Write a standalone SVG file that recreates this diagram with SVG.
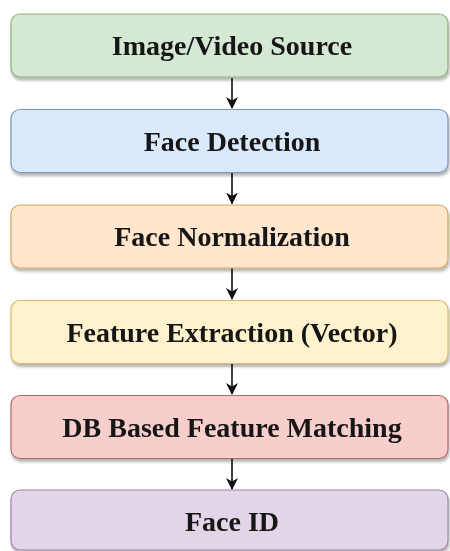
<svg xmlns="http://www.w3.org/2000/svg" width="450" height="551" viewBox="0 0 450 551">
<style>
.box{stroke-width:1.2}
.lbl{font-family:"Liberation Serif","Times New Roman",serif;font-weight:bold;font-size:28px;fill:#161616;text-anchor:middle}
.conn{stroke:#111;stroke-width:1.6;fill:none}
</style>
<defs>
<filter id="sh" x="-5%" y="-10%" width="110%" height="130%">
<feGaussianBlur in="SourceAlpha" stdDeviation="1.5"/>
<feOffset dx="1" dy="3" result="b"/>
<feComponentTransfer><feFuncA type="linear" slope="0.3"/></feComponentTransfer>
<feMerge><feMergeNode/><feMergeNode in="SourceGraphic"/></feMerge>
</filter>
<marker id="ah" markerWidth="12" markerHeight="12" refX="11" refY="6" orient="auto" markerUnits="userSpaceOnUse">
<path d="M0,0 L12,6 L0,12 L3.5,6 Z" fill="#111"/>
</marker>
</defs>
<rect width="450" height="551" fill="#fff"/>
<g id="connectors">
<line class="conn" x1="232" y1="78" x2="232" y2="108" marker-end="url(#ah)"/>
<line class="conn" x1="232" y1="173" x2="232" y2="203.5" marker-end="url(#ah)"/>
<line class="conn" x1="232" y1="268" x2="232" y2="299" marker-end="url(#ah)"/>
<line class="conn" x1="232" y1="364" x2="232" y2="394" marker-end="url(#ah)"/>
<line class="conn" x1="232" y1="459" x2="232" y2="489" marker-end="url(#ah)"/>
</g>
<g id="n1" filter="url(#sh)"><rect class="box" x="11" y="14" width="437" height="63" rx="9" fill="#d5e8d4" stroke="#8fb07a"/><text class="lbl" x="232" y="55">Image/Video Source</text></g>
<g id="n2" filter="url(#sh)"><rect class="box" x="11" y="109.5" width="437" height="63" rx="9" fill="#dae8fc" stroke="#7f95b8"/><text class="lbl" x="232" y="150.5">Face Detection</text></g>
<g id="n3" filter="url(#sh)"><rect class="box" x="11" y="205" width="437" height="63" rx="9" fill="#ffe6cc" stroke="#d4a85a"/><text class="lbl" x="232" y="246">Face Normalization</text></g>
<g id="n4" filter="url(#sh)"><rect class="box" x="11" y="300.5" width="437" height="63" rx="9" fill="#fff2cc" stroke="#d6bc6a"/><text class="lbl" x="232" y="341.5">Feature Extraction (Vector)</text></g>
<g id="n5" filter="url(#sh)"><rect class="box" x="11" y="395.5" width="437" height="63" rx="9" fill="#f8cecc" stroke="#b06a66"/><text class="lbl" x="232" y="436.5">DB Based Feature Matching</text></g>
<g id="n6" filter="url(#sh)"><rect class="box" x="11" y="490" width="437" height="60" rx="9" fill="#e1d5e7" stroke="#9a86a8"/><text class="lbl" x="232" y="531">Face ID</text></g>
</svg>
